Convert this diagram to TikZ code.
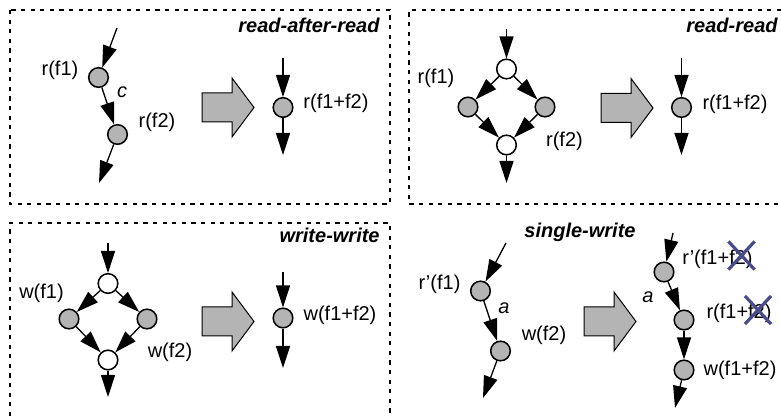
\documentclass[tikz,border=0pt]{standalone}
\usepackage{fontspec}
\setmainfont{Liberation Sans}
\usepackage{tikz}
\usetikzlibrary{arrows.meta,shapes.misc}
\definecolor{opgray}{HTML}{B4B4B4}
\definecolor{crossblue}{HTML}{4B4B8C}
\tikzstyle{op} = [circle, draw, fill=opgray, line width=0.75pt, minimum size=9.8pt, inner sep=0pt]
\tikzstyle{fork} = [op, fill=white]
\tikzstyle{line} = [draw, line width=0.65pt, -{Triangle[length=11pt,width=7pt]}]
\tikzstyle{region} = [draw, line width=1.2pt, dash pattern=on 2.1pt off 2.7pt]
\tikzstyle{title} = [font=\fontsize{10}{12}\selectfont\bfseries\itshape, inner sep=0pt]
\tikzstyle{lbl} = [inner sep=0pt]
\tikzstyle{strike} = [cross out, draw=crossblue, line width=1.6pt, minimum width=11.5pt, minimum height=12.5pt, inner sep=0pt]
% gray block arrow: shaft start x, centre y
\newcommand{\bigarrow}[2]{%
  \draw[fill=opgray, line width=0.5pt] (#1,#2) ++(0,-14.5) -- ++(30,0) -- ++(0,-15) -- ++(22,29.5) -- ++(-22,29.5) -- ++(0,-15) -- ++(-30,0) -- cycle;}

\begin{document}
\begin{tikzpicture}[x=0.5pt, y=-0.5pt, font=\fontsize{10}{12}\selectfont]
        \useasboundingbox (0,0) rectangle (781,416);

        % Regions
        \draw [region] (10,10) rectangle (390,204);
        \draw [region] (781,10) -- (409,10) -- (409,204) -- (781,204);
        \draw [region] (10,416) -- (10,223) -- (390,223) -- (390,416);

        % read-after-read
        \node [title, anchor=base east] (rar) at (380,32.5) {read-after-read};
        \coordinate (rar-in) at (117,28);
        \node [op] (rar-r1) at (98.5,77.5) {};
        \node [op] (rar-r2) at (117.5,134.5) {};
        \coordinate (rar-out) at (99,183);
        \node [lbl] (rar-l1) at (60,70) {r(f1)};
        \node [lbl] (rar-c) at (122,92) {\itshape c};
        \node [lbl] (rar-l2) at (157,122) {r(f2)};
        \bigarrow{202}{107.5}
        \coordinate (rar-min) at (283,58);
        \node [op] (rar-m) at (283,107.5) {};
        \coordinate (rar-mout) at (283,155);
        \node [lbl] (rar-lm) at (336,103.5) {r(f1+f2)};

        \path [line] (rar-in) -- (rar-r1);
        \path [line] (rar-r1) -- (rar-r2);
        \path [line] (rar-r2) -- (rar-out);
        \path [line] (rar-min) -- (rar-m);
        \path [line] (rar-m) -- (rar-mout);

        % read-read
        \node [title, anchor=base east] (rr) at (778,33) {read-read};
        \coordinate (rr-in) at (506.5,29);
        \node [fork] (rr-top) at (506.5,69) {};
        \node [op] (rr-r1) at (468,107) {};
        \node [op] (rr-r2) at (545,107) {};
        \node [fork] (rr-bot) at (506.5,145) {};
        \coordinate (rr-out) at (506.5,183);
        \node [lbl] (rr-l1) at (436,78) {r(f1)};
        \node [lbl] (rr-l2) at (564.5,141) {r(f2)};
        \bigarrow{601}{108}
        \coordinate (rr-min) at (681.5,58);
        \node [op] (rr-m) at (681.5,107.5) {};
        \coordinate (rr-mout) at (681.5,155);
        \node [lbl] (rr-lm) at (735,104) {r(f1+f2)};

        \path [line] (rr-in) -- (rr-top);
        \path [line] (rr-top) -- (rr-r1);
        \path [line] (rr-top) -- (rr-r2);
        \path [line] (rr-r1) -- (rr-bot);
        \path [line] (rr-r2) -- (rr-bot);
        \path [line] (rr-bot) -- (rr-out);
        \path [line] (rr-min) -- (rr-m);
        \path [line] (rr-m) -- (rr-mout);

        % write-write
        \node [title, anchor=base east] (ww) at (380,243) {write-write};
        \coordinate (ww-in) at (108,243);
        \node [fork] (ww-top) at (108,283.5) {};
        \node [op] (ww-w1) at (69,319) {};
        \node [op] (ww-w2) at (147,319) {};
        \node [fork] (ww-bot) at (108,360) {};
        \coordinate (ww-out) at (108,397);
        \node [lbl] (ww-l1) at (41.5,293.5) {w(f1)};
        \node [lbl] (ww-l2) at (170,352.5) {w(f2)};
        \bigarrow{202}{321.5}
        \coordinate (ww-min) at (283,272);
        \node [op] (ww-m) at (283,318) {};
        \coordinate (ww-mout) at (283,368);
        \node [lbl] (ww-lm) at (340,315.5) {w(f1+f2)};

        \path [line] (ww-in) -- (ww-top);
        \path [line] (ww-top) -- (ww-w1);
        \path [line] (ww-top) -- (ww-w2);
        \path [line] (ww-w1) -- (ww-bot);
        \path [line] (ww-w2) -- (ww-bot);
        \path [line] (ww-bot) -- (ww-out);
        \path [line] (ww-min) -- (ww-m);
        \path [line] (ww-m) -- (ww-mout);

        % single-write
        \node [title, anchor=base] (sw) at (580,238) {single-write};
        \coordinate (sw-in) at (506,243);
        \node [op] (sw-r1) at (480.5,291) {};
        \node [op] (sw-w2) at (500.5,351) {};
        \coordinate (sw-out) at (483,398);
        \node [lbl] (sw-l1) at (439.5,284) {r’(f1)};
        \node [lbl] (sw-a) at (504,308) {\itshape a};
        \node [lbl] (sw-l2) at (544,335) {w(f2)};
        \bigarrow{584}{321.5}
        \coordinate (sw-min) at (673,233);
        \node [op] (sw-m1) at (664,272) {};
        \node [op] (sw-m2) at (684,320) {};
        \node [op] (sw-m3) at (684,370) {};
        \coordinate (sw-mout) at (675,408);
        \node [lbl] (sw-a2) at (648,297) {\itshape a};
        \node [lbl] (sw-lm1) at (717.5,259) {r’(f1+f2)};
        \node [lbl] (sw-lm2) at (739,313) {r(f1+f2)};
        \node [lbl] (sw-lm3) at (740,370) {w(f1+f2)};
        \node [strike] (sw-x1) at (741.5,255.5) {};
        \node [strike] (sw-x2) at (758,310) {};

        \path [line] (sw-in) -- (sw-r1);
        \path [line] (sw-r1) -- (sw-w2);
        \path [line] (sw-w2) -- (sw-out);
        \path [line] (sw-min) -- (sw-m1);
        \path [line] (sw-m1) -- (sw-m2);
        \path [line] (sw-m2) -- (sw-m3);
        \path [line] (sw-m3) -- (sw-mout);
\end{tikzpicture}
\end{document}
